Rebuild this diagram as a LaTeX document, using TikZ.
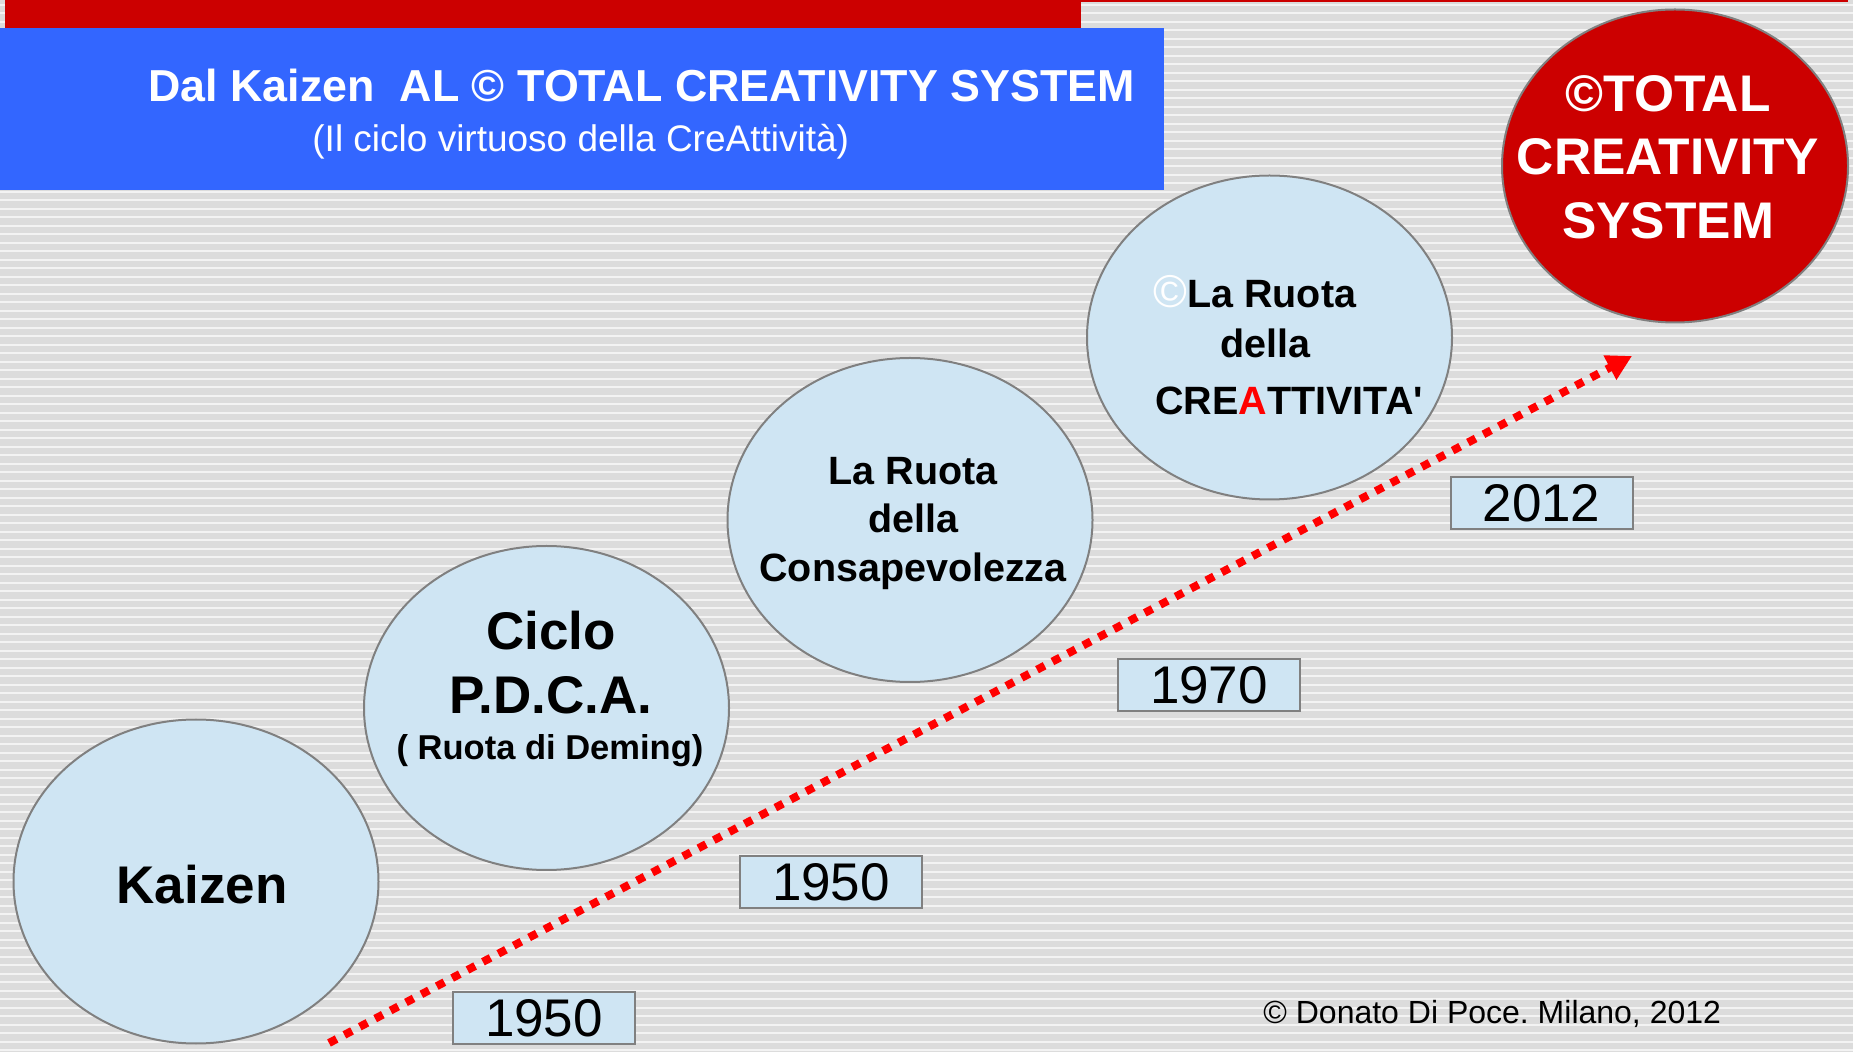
\documentclass[tikz,border=0pt]{standalone}
\usepackage{fontspec}
\setmainfont{Liberation Sans}
\newfontfamily\plainarial{Liberation Sans}
\usetikzlibrary{shapes.geometric,arrows.meta}
\definecolor{bubblefill}{HTML}{CFE5F3}
\definecolor{rimgray}{HTML}{808080}
\definecolor{headblue}{HTML}{3366FF}
\definecolor{darkred}{HTML}{CC0000}
\definecolor{stripegray}{HTML}{DCDCDC}
\definecolor{stripelight}{HTML}{F3F3F3}
\newcommand\pxfont[1]{\fontsize{#1}{#1}\selectfont}
\frenchspacing
\begin{document}
\begin{tikzpicture}
  [x=0.5pt,y=-0.5pt,every node/.style={inner sep=0pt},
   bubble/.style={ellipse,draw=rimgray,line width=1pt,fill=bubblefill,
     minimum width=182.5pt,minimum height=162pt},
   yearbox/.style={rectangle,draw=rimgray,line width=1pt,fill=bubblefill,
     minimum width=91pt,minimum height=26pt,font=\pxfont{26.5}},
   bubbletext/.style={anchor=base,font=\bfseries\pxfont{#1}}]
  % striped background
  \fill[stripegray] (0,0) rectangle (1853,1052);
  \useasboundingbox (0,0) rectangle (1853,1052);
  \foreach \k in {0,...,123}
    \draw[stripelight,line width=0.9pt] (0,{4.8+8.5*\k}) -- (1853,{4.8+8.5*\k});
  % header
  \fill[darkred] (5,0) rectangle (1081,28);
  \draw[darkred,line width=1pt] (1081,1.5) -- (1848,1.5);
  \fill[headblue] (0,28) rectangle (1164,190);
  \node[anchor=base west,text=white,font=\bfseries\pxfont{22.4}] (title) at (148,101.7)
    {Dal Kaizen\ \ AL © TOTAL CREATIVITY SYSTEM};
  \node[anchor=base west,text=white,font=\pxfont{18.5}] (subtitle) at (312,152)
    {(Il ciclo virtuoso della CreAttività)};
  % bubbles
  \node[bubble] (kaizen) at (196,881.5) {};
  \node[bubble] (pdca) at (546.5,708) {};
  \node[bubble] (ruota) at (910,520) {};
  \node[bubble] (creattivita) at (1269.5,337.5) {};
  \node[bubble,fill=darkred,minimum width=173pt,minimum height=156.5pt] (tcs) at (1675,166) {};
  \node[bubbletext=26.5] (kaizenlbl) at (202,904) {Kaizen};
  \node[bubbletext=26.5] (pdca1) at (551,650) {Ciclo};
  \node[bubbletext=26.5] (pdca2) at (551,714) {P.D.C.A.};
  \node[bubbletext=17.25] (pdca3) at (550,760) {( Ruota di Deming)};
  \node[bubbletext=19.75] (ruota1) at (913,485) {La Ruota};
  \node[bubbletext=19.75] (ruota2) at (913,533) {della};
  \node[bubbletext=19.75] (ruota3) at (913,582) {Consapevolezza};
  \node[bubbletext=19.75,anchor=base west] (crea1) at (1153,308)
    {{\mdseries\pxfont{23}\textcolor{white}{©}}La Ruota};
  \node[bubbletext=19.75] (crea2) at (1265,358) {della};
  \node[bubbletext=19.75,anchor=base west] (crea3) at (1155,415)
    {CRE\textcolor{red}{A}TTIVITA{\plainarial\bfseries'}};
  \node[bubbletext=25.75,text=white] (tcs1) at (1668,112) {©TOTAL};
  \node[bubbletext=25.75,text=white] (tcs2) at (1668,175) {CREATIVITY};
  \node[bubbletext=25.75,text=white] (tcs3) at (1668,239) {SYSTEM};
  % years
  \node[yearbox] (y1950a) at (544,1018) {1950};
  \node[yearbox] (y1950b) at (831,882) {1950};
  \node[yearbox] (y1970) at (1209,685) {1970};
  \node[yearbox] (y2012) at (1541.5,503.5) {2012};
  % dotted arrow
  \coordinate (arrowstart) at (329,1043);
  \coordinate (arrowtip) at (1632,356);
  \draw[red,line width=4pt,dash pattern=on 4.3pt off 4.4pt,
    -{Triangle[length=12.5pt,width=13pt]}] (arrowstart) -- (arrowtip);
  \node[anchor=base west,font=\pxfont{16}] (credit) at (1263,1023)
    {© Donato Di Poce. Milano, 2012};
\end{tikzpicture}
\end{document}
